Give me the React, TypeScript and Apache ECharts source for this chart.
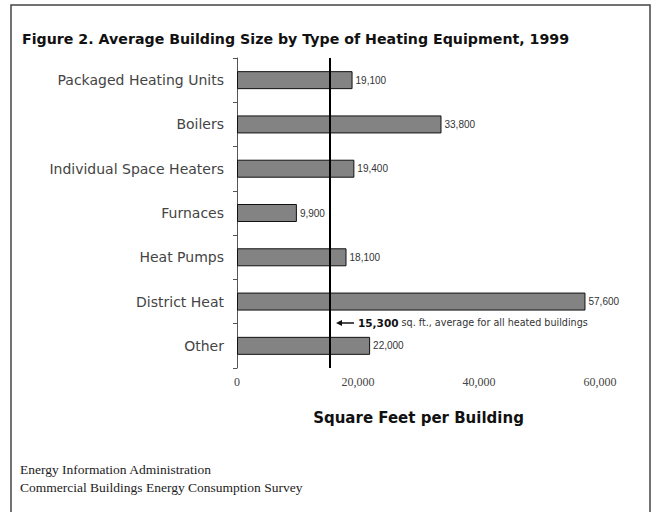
import React, { useEffect, useRef } from "react";
import * as echarts from "echarts";

const categories = [
  "Packaged Heating Units",
  "Boilers",
  "Individual Space Heaters",
  "Furnaces",
  "Heat Pumps",
  "District Heat",
  "Other",
];
const avgSize = [19100, 33800, 19400, 9900, 18100, 57600, 22000];
const overallAverage = 15300;
const xTicks = [0, 20000, 40000, 60000];

const fmt = (v: number) => v.toLocaleString("en-US");

export default function App() {
  const ref = useRef<HTMLDivElement>(null);
  useEffect(() => {
    if (!ref.current) return;
    const chart = echarts.init(ref.current, null, { renderer: "svg" });
    chart.setOption({
      animation: false,
      backgroundColor: "#ffffff",
      grid: { left: 237, right: 55, top: 58, bottom: 144, containLabel: false },
      xAxis: {
        type: "value",
        min: xTicks[0],
        max: xTicks[xTicks.length - 1],
        interval: xTicks[1] - xTicks[0],
        axisLine: { show: false },
        axisTick: { show: false },
        splitLine: { show: false },
        axisLabel: {
          margin: 8,
          fontFamily: "Liberation Serif",
          fontSize: 12,
          color: "#444",
          formatter: (v: number) => fmt(v),
        },
        name: "Square Feet per Building",
        nameLocation: "middle",
        nameGap: 42,
        nameTextStyle: {
          fontFamily: "DejaVu Sans",
          fontWeight: "bold",
          fontSize: 15,
          color: "#111",
        },
      },
      yAxis: {
        type: "category",
        data: categories,
        inverse: true,
        axisLine: { show: true, lineStyle: { color: "#555", width: 1 } },
        axisTick: { show: true, length: 4, lineStyle: { color: "#555" } },
        axisLabel: {
          margin: 13,
          fontFamily: "DejaVu Sans",
          fontSize: 14,
          color: "#444",
        },
      },
      series: [
        {
          type: "bar",
          data: avgSize,
          barWidth: 18,
          itemStyle: { color: "#838383", borderColor: "#111", borderWidth: 1 },
          label: {
            show: true,
            position: "right",
            distance: 3,
            fontFamily: "Liberation Sans",
            fontSize: 10,
            color: "#333",
            formatter: (p: any) => fmt(p.value),
          },
          markLine: {
            silent: true,
            symbol: "none",
            label: { show: false },
            lineStyle: { color: "#000", width: 2, type: "solid" },
            data: [{ xAxis: overallAverage }],
          },
        },
      ],
      graphic: [
        {
          type: "rect",
          shape: { x: 11, y: 5, width: 639, height: 515 },
          style: { fill: "none", stroke: "#444", lineWidth: 1.5 },
        },
        {
          type: "text",
          left: 22,
          top: 32,
          style: {
            text: "Figure 2. Average Building Size by Type of Heating Equipment, 1999",
            fontFamily: "DejaVu Sans",
            fontWeight: "bold",
            fontSize: 14.2,
            fill: "#111",
          },
        },
        {
          type: "line",
          shape: { x1: 338, y1: 323, x2: 354, y2: 323 },
          style: { stroke: "#111", lineWidth: 1.5 },
        },
        {
          type: "polygon",
          shape: { points: [[336, 323], [342, 320], [342, 326]] },
          style: { fill: "#111" },
        },
        {
          type: "text",
          left: 358,
          top: 317,
          style: {
            text: "{b|15,300} sq. ft., average for all heated buildings",
            fontFamily: "DejaVu Sans",
            fontSize: 9.6,
            fill: "#333",
            rich: {
              b: { fontFamily: "DejaVu Sans", fontSize: 10.5, fontWeight: "bold", fill: "#111" },
            },
          },
        },
        {
          type: "text",
          left: 20,
          top: 462,
          style: {
            text: "Energy Information Administration",
            fontFamily: "Liberation Serif",
            fontSize: 13.5,
            fill: "#222",
          },
        },
        {
          type: "text",
          left: 20,
          top: 480,
          style: {
            text: "Commercial Buildings Energy Consumption Survey",
            fontFamily: "Liberation Serif",
            fontSize: 13.5,
            fill: "#222",
          },
        },
      ],
    });
    return () => chart.dispose();
  }, []);
  return (
    <div
      ref={ref}
      style={{ position: "fixed", left: 0, top: 0, width: 655, height: 512 }}
    />
  );
}
